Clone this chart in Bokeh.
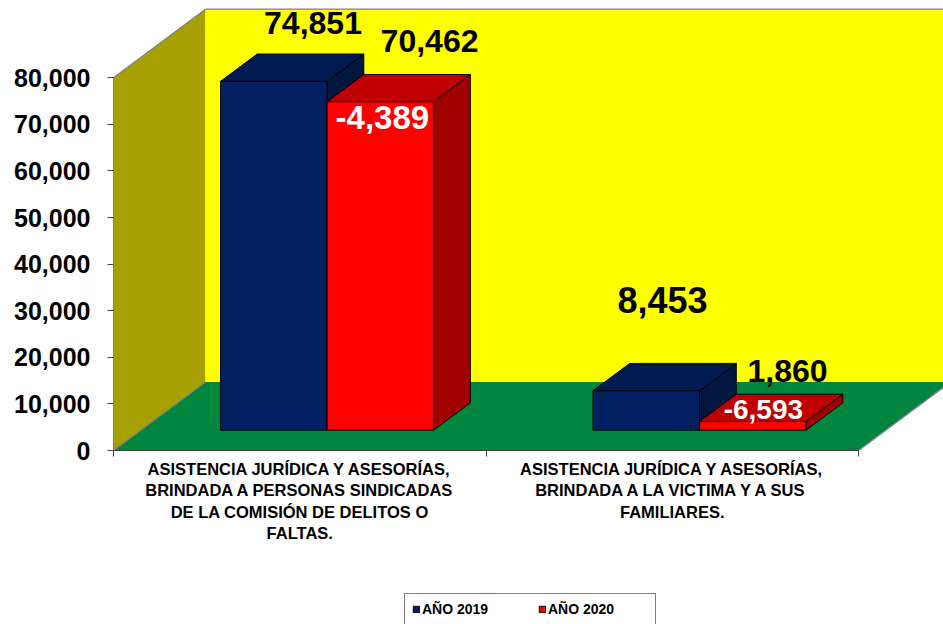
from bokeh.plotting import figure
from bokeh.layouts import column
from bokeh.models import (Range1d, FixedTicker, NumeralTickFormatter, Legend,
                          LegendItem, ColumnDataSource)
from bokeh.core.properties import value
from bokeh.embed import file_html
from bokeh.resources import INLINE

# ---------------- data ----------------
categories = [
    "ASISTENCIA JURÍDICA Y ASESORÍAS,\nBRINDADA A PERSONAS SINDICADAS\nDE LA COMISIÓN DE DELITOS O\nFALTAS.",
    "ASISTENCIA JURÍDICA Y ASESORÍAS,\nBRINDADA A LA VICTIMA Y A SUS\nFAMILIARES.",
]
series_names = ["AÑO 2019", "AÑO 2020"]
values_2019 = [74851, 8453]
values_2020 = [70462, 1860]
y_ticks = [0, 10000, 20000, 30000, 40000, 50000, 60000, 70000, 80000]

# ---------------- layout / style ----------------
W = 943
H_MAIN, H_LEG = 592, 32
FRAME_LEFT = 113
BORDER_BOTTOM = 142
PX_PER_CAT = 372.5
PX_PER_VAL = 4.66 / 1000.0
DEPTH_PX = (92.0, 68.5)
DX = DEPTH_PX[0] / PX_PER_CAT
DY = DEPTH_PX[1] / PX_PER_VAL
Z0, Z1 = 0.297, 0.696
BAR_W = 0.286
WALL_TOP = y_ticks[-1]
NCAT = len(categories)

FONT = "Liberation Sans"
BLUE = dict(front="#002060", top="#001B52", side="#00173F")
RED = dict(front="#FF0000", top="#C00000", side="#A00000")
YELLOW, OLIVE, GREEN = "#FFFF00", "#A6A000", "#00853E"
EDGE = "#808080"

frame_h = H_MAIN - BORDER_BOTTOM
x_end = (W - FRAME_LEFT) / PX_PER_CAT
y_end = frame_h / PX_PER_VAL

p = figure(width=W, height=H_MAIN, x_range=Range1d(0, x_end), y_range=Range1d(0, y_end),
           output_backend="svg", toolbar_location=None,
           min_border_left=FRAME_LEFT, min_border_right=0, min_border_top=0,
           min_border_bottom=BORDER_BOTTOM)
p.outline_line_color = None
p.grid.visible = False
p.background_fill_color = "white"


def proj(x, v, z):
    return x + z * DX, v + z * DY


# ---------------- walls & floor ----------------
sx, sy = zip(*[proj(0, 0, 0), proj(0, WALL_TOP, 0), proj(0, WALL_TOP, 1), proj(0, 0, 1)])
p.patch(list(sx), list(sy), fill_color=OLIVE, line_color=None)
bx, by = zip(*[proj(0, 0, 1), proj(0, WALL_TOP, 1), proj(NCAT, WALL_TOP, 1), proj(NCAT, 0, 1)])
p.patch(list(bx), list(by), fill_color=YELLOW, line_color=None)
fx, fy = zip(*[proj(0, 0, 0), proj(NCAT, 0, 0), proj(NCAT, 0, 1), proj(0, 0, 1)])
p.patch(list(fx), list(fy), fill_color=GREEN, line_color=None)

edges = [
    [proj(0, WALL_TOP, 0), proj(0, WALL_TOP, 1)],
    [proj(0, WALL_TOP, 1), proj(NCAT, WALL_TOP, 1)],
    [proj(NCAT, 0, 0), proj(NCAT, 0, 1)],
    [proj(0, 0, 0), proj(0, 0, 1)],
]
p.multi_line([[a[0], b[0]] for a, b in edges], [[a[1], b[1]] for a, b in edges],
             line_color=EDGE, line_width=1.3)


# ---------------- 3D bars ----------------
def faces(x0, v):
    x1 = x0 + BAR_W
    front = [proj(x0, 0, Z0), proj(x1, 0, Z0), proj(x1, v, Z0), proj(x0, v, Z0)]
    top = [proj(x0, v, Z0), proj(x1, v, Z0), proj(x1, v, Z1), proj(x0, v, Z1)]
    side = [proj(x1, 0, Z0), proj(x1, 0, Z1), proj(x1, v, Z1), proj(x1, v, Z0)]
    return dict(front=front, top=top, side=side)


series = [(values_2019, BLUE, -1), (values_2020, RED, 0)]
bar_faces = []
for vals, col, shift in series:
    bar_faces.append([faces(i + 0.5 + shift * BAR_W, v) for i, v in enumerate(vals)])


def face_xy(k, face):
    polys = [f[face] for f in bar_faces[k]]
    return ([[pt[0] for pt in poly] for poly in polys],
            [[pt[1] for pt in poly] for poly in polys])


for face in ["side", "top", "front"]:
    for k, (vals, col, shift) in enumerate(series):
        xs, ys = face_xy(k, face)
        p.patches(xs, ys, fill_color=col[face], line_color="black", line_width=1)

# ---------------- value labels ----------------
lab_offsets = {  # pixel nudges (x, y-down) for label placement
    (0, 0): (2.5, -31), (1, 0): (12.5, -33), (0, 1): (-20.5, -63), (1, 1): (-2, -23)}
lab_sizes = {(0, 0): "32px", (1, 0): "32px", (0, 1): "36px", (1, 1): "32px"}
lx, ly, lt, lxo, lyo, lfs = [], [], [], [], [], []
for i in range(NCAT):
    for k, (vals, col, shift) in enumerate(series):
        x0 = i + 0.5 + shift * BAR_W
        ax, ay = proj(x0 + BAR_W / 2, vals[i], Z1)
        lx.append(ax); ly.append(ay); lt.append(f"{vals[i]:,}")
        lxo.append(lab_offsets[(k, i)][0]); lyo.append(lab_offsets[(k, i)][1])
        lfs.append(lab_sizes[(k, i)])
src = ColumnDataSource(dict(x=lx, y=ly, t=lt, xo=lxo, yo=lyo, fs=lfs))
p.text("x", "y", text="t", x_offset="xo", y_offset="yo", text_font_size="fs",
       source=src, text_font=value(FONT), text_font_style="bold", text_color="black",
       text_align="center", text_baseline="middle")

diff_offsets = [(2, 15.5), (10.5, -12)]
diff_sizes = ["33px", "28px"]
dx_, dy_, dt_ = [], [], []
for i in range(NCAT):
    ax, ay = proj(i + 0.5 + BAR_W / 2, values_2020[i], Z0)
    dx_.append(ax); dy_.append(ay)
    dt_.append(f"{values_2020[i] - values_2019[i]:,}")
dsrc = ColumnDataSource(dict(x=dx_, y=dy_, t=dt_, xo=[o[0] for o in diff_offsets],
                             yo=[o[1] for o in diff_offsets], fs=diff_sizes))
p.text("x", "y", text="t", x_offset="xo", y_offset="yo", text_font_size="fs",
       source=dsrc, text_font=value(FONT), text_font_style="bold", text_color="white",
       text_align="center", text_baseline="middle")

# ---------------- axes ----------------
ya = p.yaxis[0]
ya.ticker = FixedTicker(ticks=y_ticks)
ya.formatter = NumeralTickFormatter(format="0,0")
ya.bounds = (0, WALL_TOP)
ya.axis_line_color = EDGE
ya.major_tick_out = 6
ya.major_tick_in = 0
ya.major_tick_line_color = "#404040"
ya.minor_tick_line_color = None
ya.major_label_standoff = 17
ya.major_label_text_font = FONT
ya.major_label_text_font_style = "bold"
ya.major_label_text_font_size = "25px"
ya.major_label_text_color = "black"

xa = p.xaxis[0]
centers = [i + 0.5 for i in range(NCAT)]
xa.ticker = FixedTicker(ticks=centers, minor_ticks=list(range(NCAT + 1)))
xa.major_label_overrides = {c: lab for c, lab in zip(centers, categories)}
xa.bounds = (0, NCAT)
xa.axis_line_color = "#404040"
xa.major_tick_line_color = None
xa.major_tick_out = 6
xa.major_tick_in = 0
xa.minor_tick_line_color = "#404040"
xa.minor_tick_out = 6
xa.minor_tick_in = 0
xa.major_label_standoff = 3
xa.major_label_text_font = FONT
xa.major_label_text_font_style = "bold"
xa.major_label_text_font_size = "16.5px"
xa.major_label_text_color = "black"
xa.major_label_text_line_height = 1.2

# ---------------- legend strip: same x scale, a value window below the floor ----------------
pl = figure(width=W, height=H_LEG, x_range=p.x_range,
            y_range=Range1d(-H_MAIN / PX_PER_VAL, -(H_MAIN - H_LEG) / PX_PER_VAL),
            output_backend="svg", toolbar_location=None,
            min_border_left=FRAME_LEFT, min_border_right=0, min_border_top=0,
            min_border_bottom=0, x_axis_location=None, y_axis_location=None)
pl.outline_line_color = None
pl.grid.visible = False
leg_r = []
for k, (vals, col, shift) in enumerate(series):
    xs, ys = face_xy(k, "front")   # same bars; they lie above this window
    leg_r.append(pl.patches(xs, ys, fill_color=col["front"], line_color="black", line_width=1))
legend = Legend(items=[LegendItem(label=n, renderers=[r]) for n, r in zip(series_names, leg_r)],
                orientation="horizontal", location=(291, -1),
                glyph_width=8, glyph_height=8, label_standoff=2, label_width=100,
                label_height=14, spacing=16, padding=7, margin=0,
                label_text_font=FONT, label_text_font_style="bold",
                label_text_font_size="14px", label_text_color="black",
                border_line_color="black", border_line_width=1,
                background_fill_color="white", background_fill_alpha=1)
pl.add_layout(legend, "center")

layout = column(p, pl, spacing=0)
open("out.html", "w").write(file_html(layout, INLINE))
